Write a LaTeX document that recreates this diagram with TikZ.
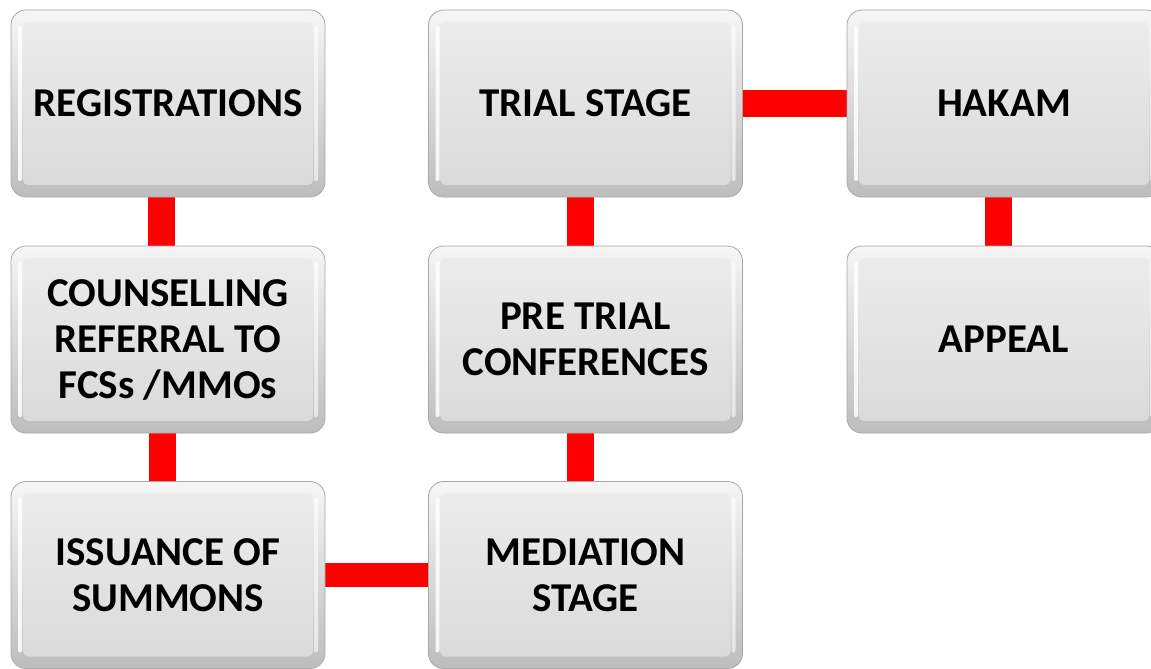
\documentclass[tikz,border=0pt]{standalone}
\usepackage{fontspec}
\setmainfont{Carlito}
\usetikzlibrary{backgrounds}
\definecolor{rimtop}{HTML}{F6F6F6}
\definecolor{rimbot}{HTML}{BDBDBD}
\definecolor{facetop}{HTML}{EDEDED}
\definecolor{facebot}{HTML}{D9D9D9}
\definecolor{edgegray}{HTML}{A8A8A8}
\definecolor{linkred}{HTML}{FF0000}
\tikzset{
  btn/.style={rectangle, rounded corners=15pt, minimum width=314pt, minimum height=187pt,
    draw=edgegray, line width=0.8pt, top color=rimtop, bottom color=rimbot,
    font=\fontsize{41pt}{46pt}\selectfont\bfseries, align=center, inner sep=0pt,
    path picture={
      \shade[top color=facetop, bottom color=facebot, rounded corners=5pt]
        ([shift={(12pt,-12pt)}]path picture bounding box.north west) rectangle
        ([shift={(-12pt,12pt)}]path picture bounding box.south east);
      \fill[white, opacity=0.85, rounded corners=2pt]
        ([shift={(7pt,-16pt)}]path picture bounding box.north west) rectangle
        ([shift={(11pt,16pt)}]path picture bounding box.south west);
      \fill[white, opacity=0.6, rounded corners=2pt]
        ([shift={(-11pt,-16pt)}]path picture bounding box.north east) rectangle
        ([shift={(-7pt,16pt)}]path picture bounding box.south east);
    }},
  link/.style={draw=linkred, line width=27pt}
}
\begin{document}
\begin{tikzpicture}[x=1pt,y=1pt]
\useasboundingbox (0,0) rectangle (1151,-669);
\clip (0,0) rectangle (1151,-669);
\node[btn] (reg) at (168,-103.5) {REGISTRATIONS};
\node[btn] (cou) at (168,-339.5) {COUNSELLING\\REFERRAL TO\\FCSs /MMOs};
\node[btn] (iss) at (168,-575) {ISSUANCE OF\\SUMMONS};
\node[btn] (tri) at (585.5,-103.5) {TRIAL STAGE};
\node[btn] (pre) at (585.5,-339.5) {PRE TRIAL\\CONFERENCES};
\node[btn] (med) at (585.5,-575) {MEDIATION\\STAGE};
\node[btn] (hak) at (1004,-103.5) {HAKAM};
\node[btn] (app) at (1004,-339.5) {APPEAL};
\begin{scope}[on background layer]
\draw[link] ([xshift=-7pt]reg.south) -- ([xshift=-7pt]cou.north);
\draw[link] ([xshift=-6pt]cou.south) -- ([xshift=-6pt]iss.north);
\draw[link] ([xshift=-5pt]tri.south) -- ([xshift=-5pt]pre.north);
\draw[link] ([xshift=-5pt]pre.south) -- ([xshift=-5pt]med.north);
\draw[link] ([xshift=-6pt]hak.south) -- ([xshift=-6pt]app.north);
\draw[link] (tri.east) -- (hak.west);
\draw[link, line width=24pt] (iss.east) -- (med.west);
\end{scope}
\end{tikzpicture}
\end{document}
